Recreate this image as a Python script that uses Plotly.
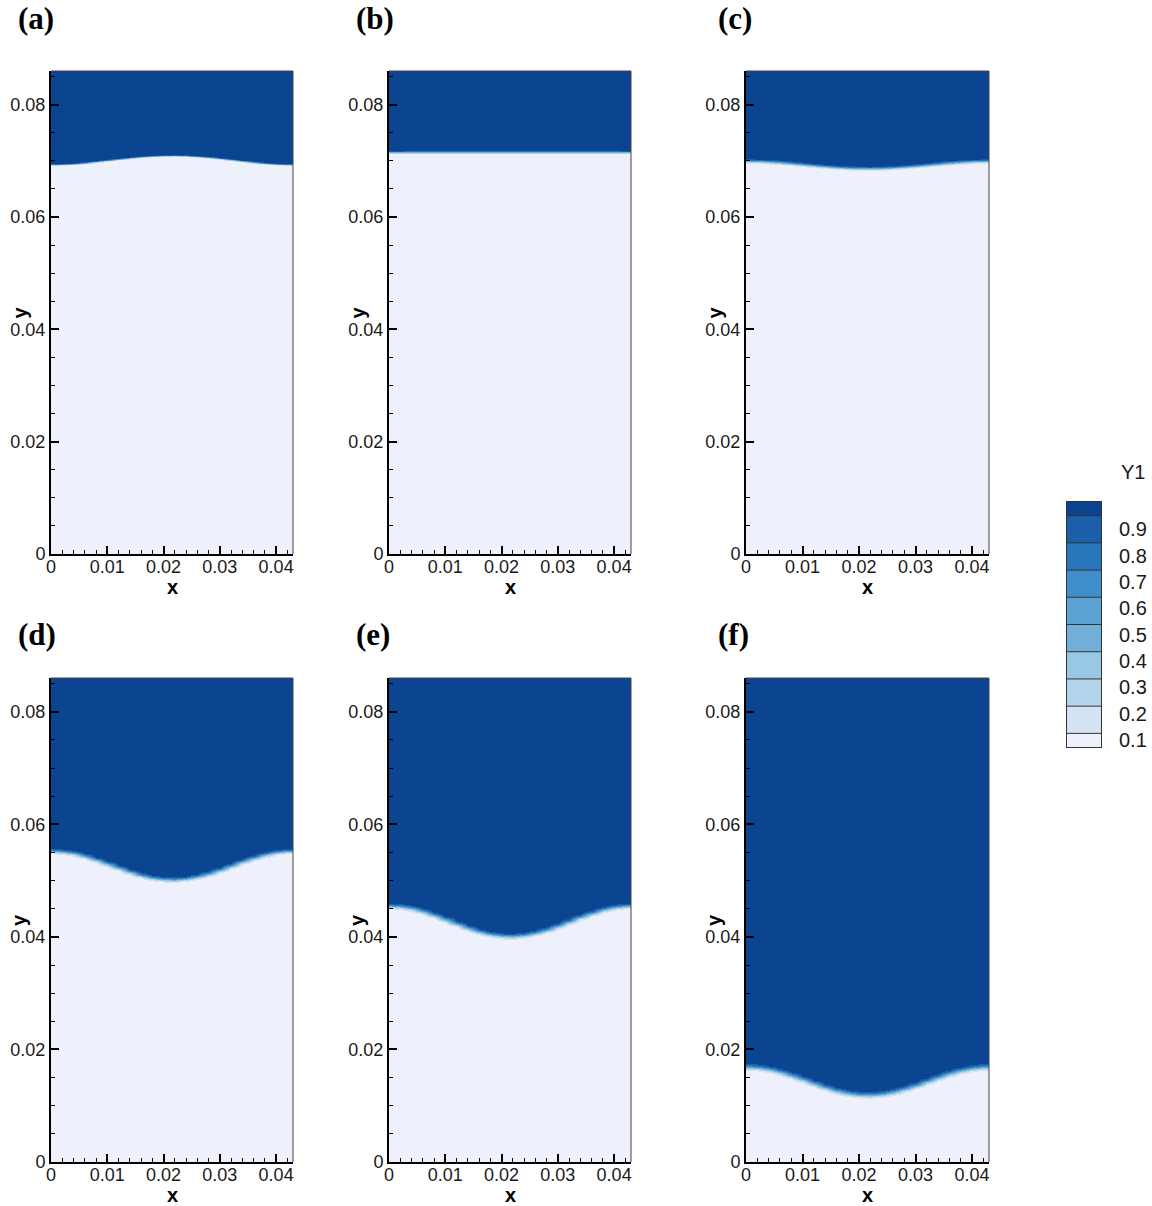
import numpy as np
import plotly.graph_objects as go

# ---------------- data ----------------
x_samples = [0.000, 0.002, 0.004, 0.006, 0.008, 0.010, 0.012, 0.014, 0.016, 0.018, 0.020,
             0.022, 0.024, 0.026, 0.028, 0.030, 0.032, 0.034, 0.036, 0.038, 0.040, 0.042, 0.043]

# interface height (Y1 = 0.5) at each x sample, per panel
iface_a = [0.06930, 0.06933, 0.06943, 0.06959, 0.06979, 0.07001, 0.07025, 0.07047, 0.07066, 0.07080, 0.07088,
           0.07090, 0.07085, 0.07073, 0.07057, 0.07036, 0.07013, 0.06990, 0.06968, 0.06951, 0.06938, 0.06931, 0.06930]
iface_b = [0.07150, 0.07150, 0.07151, 0.07151, 0.07152, 0.07152, 0.07153, 0.07153, 0.07153, 0.07154, 0.07154,
           0.07154, 0.07154, 0.07154, 0.07153, 0.07153, 0.07153, 0.07152, 0.07152, 0.07151, 0.07151, 0.07150, 0.07150]
iface_c = [0.06990, 0.06987, 0.06979, 0.06967, 0.06950, 0.06932, 0.06913, 0.06895, 0.06880, 0.06868, 0.06862,
           0.06860, 0.06864, 0.06874, 0.06887, 0.06904, 0.06923, 0.06941, 0.06959, 0.06973, 0.06984, 0.06989, 0.06990]
iface_d = [0.05520, 0.05509, 0.05478, 0.05428, 0.05365, 0.05293, 0.05219, 0.05148, 0.05088, 0.05043, 0.05016,
           0.05011, 0.05027, 0.05063, 0.05117, 0.05182, 0.05256, 0.05330, 0.05398, 0.05455, 0.05496, 0.05517, 0.05520]
iface_e = [0.04545, 0.04534, 0.04500, 0.04448, 0.04381, 0.04305, 0.04226, 0.04151, 0.04087, 0.04039, 0.04012,
           0.04006, 0.04023, 0.04061, 0.04118, 0.04187, 0.04265, 0.04343, 0.04415, 0.04476, 0.04519, 0.04542, 0.04545]
iface_f = [0.01685, 0.01674, 0.01644, 0.01595, 0.01533, 0.01462, 0.01390, 0.01321, 0.01261, 0.01217, 0.01191,
           0.01186, 0.01202, 0.01237, 0.01290, 0.01354, 0.01426, 0.01498, 0.01565, 0.01621, 0.01661, 0.01682, 0.01685]

# diffuse interface half-thickness per panel
iface_width = [0.00015, 0.00025, 0.00035, 0.00045, 0.00048, 0.00055]

panel_labels = ["(a)", "(b)", "(c)", "(d)", "(e)", "(f)"]
levels = [0.1, 0.2, 0.3, 0.4, 0.5, 0.6, 0.7, 0.8, 0.9]
band_colors = ["#eef0fc", "#d3e3f3", "#b3d5ec", "#98c8e3", "#72b0da",
               "#5ba2d5", "#3f8dc9", "#2a76bd", "#1b5ea9", "#0b4491"]
x_ticks = [0, 0.01, 0.02, 0.03, 0.04]
y_ticks = [0, 0.02, 0.04, 0.06, 0.08]
x_max = 0.043
y_max = 0.086
legend_title = "Y1"

# ---------------- figure ----------------
W, H = 1152, 1206
FONT = "Liberation Sans, Arial, sans-serif"

col_px = [(51, 293), (389, 631), (746, 989)]
row_px = [(71, 554), (678, 1162)]

def px_x(p):
    return p / W

def px_y(p):
    return 1 - p / H

# stepwise colorscale (banded like the contour levels)
edges = [0.0] + levels + [1.0]
colorscale = []
for i, c in enumerate(band_colors):
    colorscale.append([edges[i], c])
    colorscale.append([edges[i + 1], c])

ifaces = [iface_a, iface_b, iface_c, iface_d, iface_e, iface_f]
y_grid = np.linspace(0, y_max, 1400)
xs = np.array(x_samples)

fig = go.Figure()
layout = dict(width=W, height=H, autosize=False, margin=dict(l=0, r=0, t=0, b=0, autoexpand=False),
              paper_bgcolor="white", plot_bgcolor="white", showlegend=False)
annotations = []
shapes = []

for k in range(6):
    r, c = divmod(k, 3)
    idx = k + 1
    xa = "x" if idx == 1 else f"x{idx}"
    ya = "y" if idx == 1 else f"y{idx}"
    h = np.array(ifaces[k])
    Yg, Hg = np.meshgrid(y_grid, h, indexing="ij")
    Z = 0.5 * (1 + np.tanh((Yg - Hg) / iface_width[k]))
    fig.add_trace(go.Heatmap(x=xs, y=y_grid, z=Z, zmin=0, zmax=1, colorscale=colorscale,
                             zsmooth="best", showscale=False, xaxis=xa, yaxis=ya,
                             hoverinfo="skip"))
    x0p, x1p = col_px[c]
    y0p, y1p = row_px[r]
    axcommon = dict(showgrid=False, zeroline=False, showline=True, linecolor="black", linewidth=2,
                    ticks="inside", ticklen=8, tickwidth=2, tickcolor="black", automargin=False,
                    tickfont=dict(family=FONT, size=18, color="#1a1a1a"))
    layout["xaxis" + ("" if idx == 1 else str(idx))] = dict(
        axcommon, domain=[px_x(x0p), px_x(x1p)], range=[0, x_max], anchor=ya,
        tickvals=x_ticks, ticktext=[f"{v:g}" for v in x_ticks], ticklabelstandoff=-5,
        minor=dict(dtick=0.002, tick0=0, ticks="inside", ticklen=4, tickwidth=1, tickcolor="black"))
    layout["yaxis" + ("" if idx == 1 else str(idx))] = dict(
        axcommon, domain=[px_y(y1p), px_y(y0p)], range=[0, y_max], anchor=xa,
        tickvals=y_ticks, ticktext=[f"{v:g}" for v in y_ticks],
        minor=dict(dtick=0.005, tick0=0, ticks="inside", ticklen=4, tickwidth=1, tickcolor="black"))
    # thin top / right frame
    shapes.append(dict(type="line", xref=f"{xa} domain", yref=f"{ya} domain",
                       x0=0, x1=1, y0=1, y1=1, line=dict(color="#444", width=1)))
    shapes.append(dict(type="line", xref=f"{xa} domain", yref=f"{ya} domain",
                       x0=1, x1=1, y0=0, y1=1, line=dict(color="#444", width=1)))
    # axis titles
    annotations.append(dict(text="<b>x</b>", xref="paper", yref="paper",
                            x=px_x((x0p + x1p) / 2), y=px_y(y1p + 33), showarrow=False,
                            xanchor="center", yanchor="middle",
                            font=dict(family=FONT, size=20, color="black")))
    annotations.append(dict(text="<b>y</b>", xref="paper", yref="paper", textangle=-90,
                            x=px_x(x0p - 32), y=px_y((y0p + y1p) / 2), showarrow=False,
                            xanchor="center", yanchor="middle",
                            font=dict(family=FONT, size=20, color="black")))
    # panel label
    lab_x = [16, 354, 716][c]
    lab_y = [19, 634][r]
    annotations.append(dict(text=f"<b>{panel_labels[k]}</b>", xref="paper", yref="paper",
                            x=px_x(lab_x), y=px_y(lab_y), showarrow=False,
                            xanchor="left", yanchor="middle",
                            font=dict(family="Liberation Serif, Times New Roman, serif",
                                      size=31, color="black")))

# ---------------- contour legend ----------------
leg_edges = [0.0, 0.5] + [i + 1.5 for i in range(8)] + [9.0]
leg_vals = [[(edges[i] + edges[i + 1]) / 2] for i in range(len(band_colors))]
fig.add_trace(go.Heatmap(x=[0, 1], y=leg_edges, z=leg_vals, zmin=0, zmax=1,
                         colorscale=colorscale, showscale=False, xaxis="x7", yaxis="y7",
                         hoverinfo="skip"))
sep_x, sep_y = [], []
for e in leg_edges[1:-1]:
    sep_x += [0, 1, None]
    sep_y += [e, e, None]
fig.add_trace(go.Scatter(x=sep_x, y=sep_y, mode="lines", line=dict(color="#333", width=1),
                         xaxis="x7", yaxis="y7", hoverinfo="skip"))
# labels evenly spaced from the bottom half-band to the 0.9 band
lab_lo, lab_hi = 0.25, 8.0
leg_label_pos = [lab_lo + i * (lab_hi - lab_lo) / (len(levels) - 1) for i in range(len(levels))]
layout["xaxis7"] = dict(domain=[px_x(1067), px_x(1101)], range=[0, 1], anchor="y7",
                        showgrid=False, zeroline=False, showticklabels=False, ticks="",
                        showline=True, mirror=True, linecolor="#333", linewidth=1, automargin=False)
layout["yaxis7"] = dict(domain=[px_y(747), px_y(502)], range=[0, 9], anchor="x7", side="right",
                        showgrid=False, zeroline=False, showline=True, mirror=True,
                        linecolor="#333", linewidth=1, automargin=False,
                        tickvals=leg_label_pos, ticktext=[f"{v:g}" for v in levels],
                        ticks="outside", ticklen=13, tickcolor="rgba(0,0,0,0)",
                        tickfont=dict(family=FONT, size=20, color="#1a1a1a"))
annotations.append(dict(text=legend_title, xref="paper", yref="paper",
                        x=px_x(1133), y=px_y(472), showarrow=False,
                        xanchor="center", yanchor="middle",
                        font=dict(family=FONT, size=20, color="#1a1a1a")))

layout["annotations"] = annotations
layout["shapes"] = shapes
fig.update_layout(**layout)
fig.write_html("out.html", config={"displayModeBar": False},
               post_script="document.body.style.margin='0';")
